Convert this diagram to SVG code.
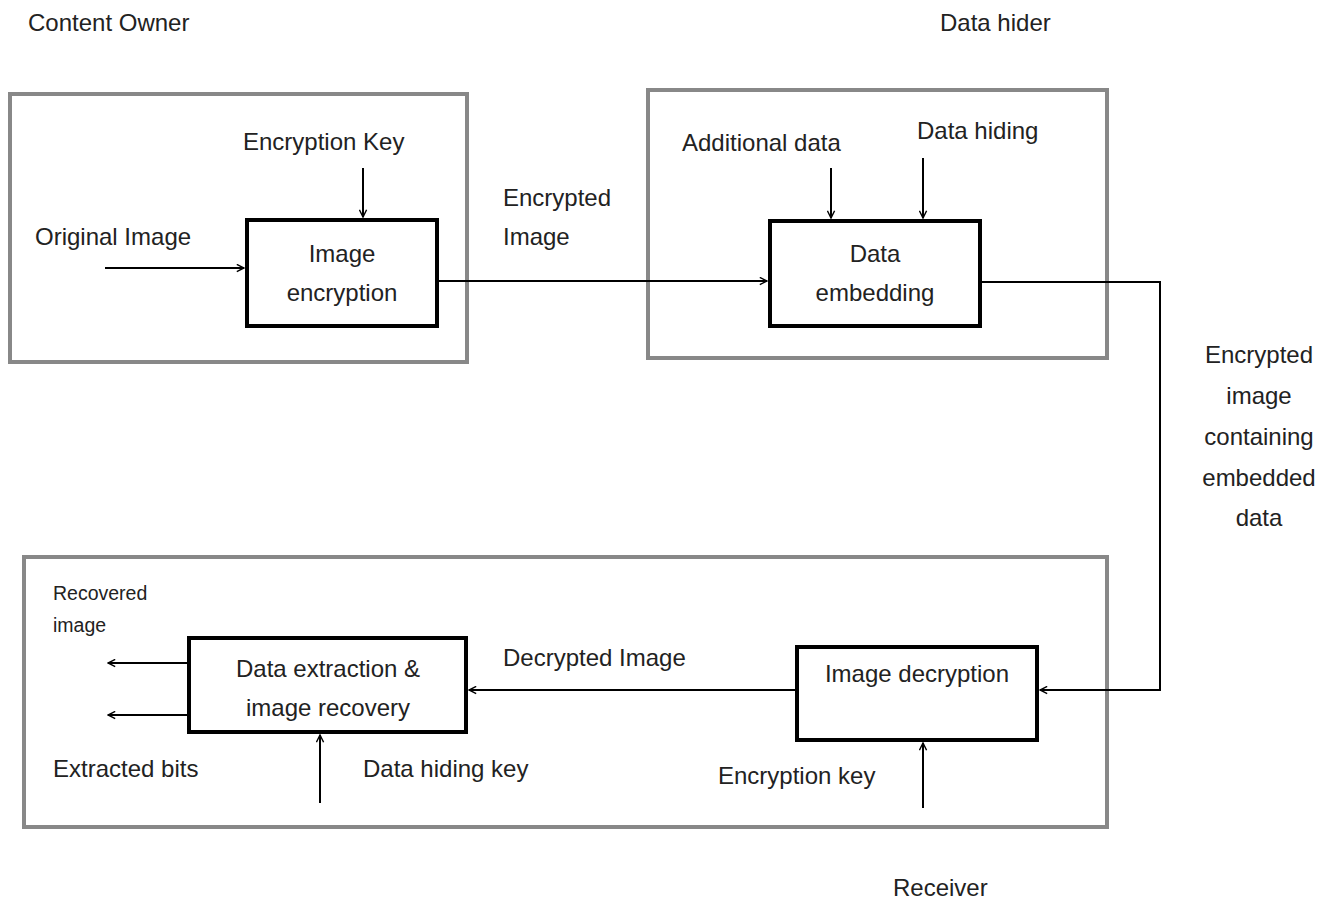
<svg xmlns="http://www.w3.org/2000/svg" width="1330" height="901" viewBox="0 0 1330 901">
<style>
.grp{fill:none;stroke:#888;stroke-width:4}
.box{fill:#fff;stroke:#000;stroke-width:4}
text{font-family:"Liberation Sans",Arial,sans-serif;font-size:24px;fill:#222}
.c{text-anchor:middle}
.s{font-size:19.5px}
.ln{fill:none;stroke:#000;stroke-width:2}
</style>
<defs>
<marker id="ah" viewBox="0 0 10 10" refX="9" refY="5" markerWidth="9" markerHeight="9" markerUnits="userSpaceOnUse" orient="auto">
<path d="M1,1 L9,5 L1,9" fill="none" stroke="#000" stroke-width="1.6"/>
</marker>
</defs>
<rect width="1330" height="901" fill="#fff"/>
<g id="owner">
<rect class="grp" x="10" y="94" width="457" height="268"/>
<text x="28" y="31">Content Owner</text>
</g>
<g id="hider">
<rect class="grp" x="648" y="90" width="459" height="268"/>
<text x="940" y="31">Data hider</text>
</g>
<g id="receiver">
<rect class="grp" x="24" y="557" width="1083" height="270"/>
<text x="893" y="896">Receiver</text>
</g>
<g id="enc">
<rect class="box" x="247" y="220" width="190" height="106"/>
<text class="c" x="342" y="262">Image</text>
<text class="c" x="342" y="301">encryption</text>
</g>
<g id="embed">
<rect class="box" x="770" y="221" width="210" height="105"/>
<text class="c" x="875" y="262">Data</text>
<text class="c" x="875" y="301">embedding</text>
</g>
<g id="dec">
<rect class="box" x="797" y="647" width="240" height="93"/>
<text class="c" x="917" y="682">Image decryption</text>
</g>
<g id="extract">
<rect class="box" x="189" y="638" width="277" height="94"/>
<text class="c" x="328" y="677">Data extraction &amp;</text>
<text class="c" x="328" y="716">image recovery</text>
</g>
<g id="labels">
<text x="243" y="150">Encryption Key</text>
<text x="35" y="245">Original Image</text>
<text x="503" y="206">Encrypted</text>
<text x="503" y="245">Image</text>
<text x="682" y="151">Additional data</text>
<text x="917" y="139">Data hiding</text>
<text class="c" x="1259" y="363">Encrypted</text>
<text class="c" x="1259" y="404">image</text>
<text class="c" x="1259" y="445">containing</text>
<text class="c" x="1259" y="486">embedded</text>
<text class="c" x="1259" y="526">data</text>
<text x="503" y="666">Decrypted Image</text>
<text x="718" y="784">Encryption key</text>
<text x="363" y="777">Data hiding key</text>
<text x="53" y="777">Extracted bits</text>
<text class="s" x="53" y="600">Recovered</text>
<text class="s" x="53" y="632">image</text>
</g>
<g id="connectors">
<line class="ln" x1="363" y1="168" x2="363" y2="217" marker-end="url(#ah)"/>
<line class="ln" x1="105" y1="268" x2="244" y2="268" marker-end="url(#ah)"/>
<line class="ln" x1="437" y1="281" x2="767" y2="281" marker-end="url(#ah)"/>
<line class="ln" x1="831" y1="168" x2="831" y2="218" marker-end="url(#ah)"/>
<line class="ln" x1="923" y1="158" x2="923" y2="218" marker-end="url(#ah)"/>
<polyline class="ln" points="980,282 1160,282 1160,690 1040,690" marker-end="url(#ah)"/>
<line class="ln" x1="797" y1="690" x2="469" y2="690" marker-end="url(#ah)"/>
<line class="ln" x1="923" y1="808" x2="923" y2="743" marker-end="url(#ah)"/>
<line class="ln" x1="320" y1="803" x2="320" y2="735" marker-end="url(#ah)"/>
<line class="ln" x1="189" y1="663" x2="108" y2="663" marker-end="url(#ah)"/>
<line class="ln" x1="189" y1="715" x2="108" y2="715" marker-end="url(#ah)"/>
</g>
</svg>
